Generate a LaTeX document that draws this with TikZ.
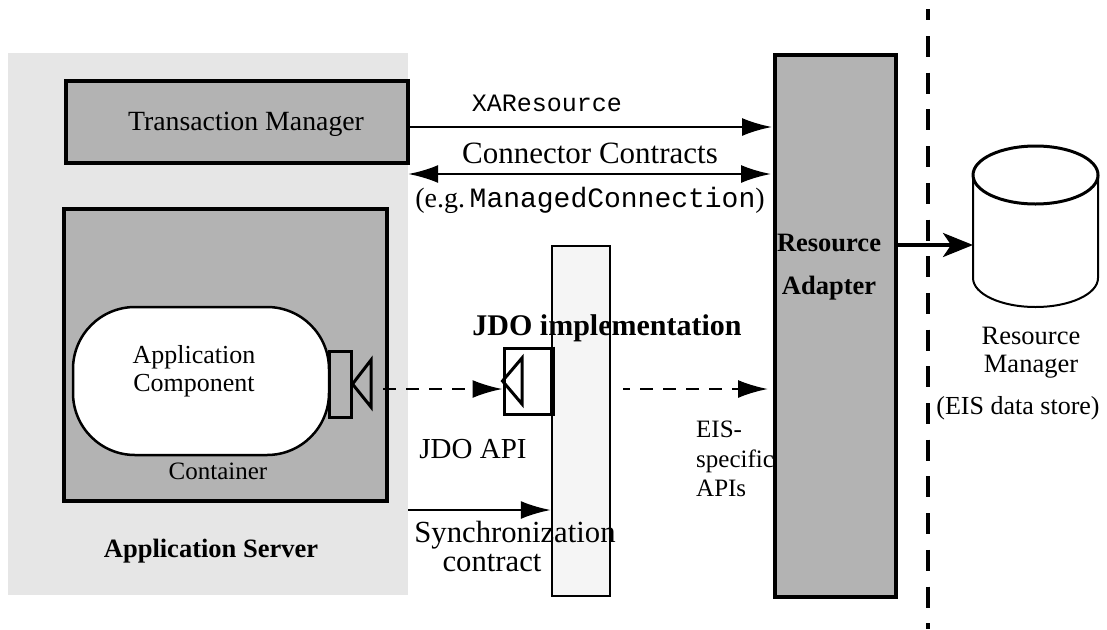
\documentclass[tikz,border=0pt]{standalone}
\usepackage{fontspec}
\usepackage{xcolor}
\setmainfont{Liberation Serif}
\setmonofont{Liberation Mono}
\usetikzlibrary{arrows.meta}
\definecolor{boxgray}{HTML}{B3B3B3}
\definecolor{backgray}{HTML}{E6E6E6}
\definecolor{jdogray}{HTML}{F5F5F5}
\newcommand{\txt}[2]{\fontsize{#1}{#2}\selectfont}
\tikzset{
    box/.style={draw, line width=3.5pt, fill=boxgray, inner sep=0pt},
    thinbox/.style={draw, line width=2.5pt, inner sep=0pt},
    label/.style={inner sep=0pt, align=center},
    flow/.style={line width=2.5pt, -{Latex[length=30pt, width=18pt]}},
    dashflow/.style={flow, dash pattern=on 12.5pt off 10.5pt},
}
\begin{document}
\begin{tikzpicture}[x=1pt, y=-1pt]
    \useasboundingbox (0,0) rectangle (1107,629);
    % application server side
    \node[fill=backgray, inner sep=0pt, minimum width=400pt, minimum height=542pt] (appserver) at (208,324) {};
    \node[box, minimum width=342pt, minimum height=82pt] (txmanager) at (237,122) {};
    \node[box, minimum width=323pt, minimum height=292pt] (container) at (225.5,355) {};
    \node[thinbox, fill=white, rounded corners=62pt, minimum width=256pt, minimum height=148pt] (appcomp) at (201,381) {};
    \node[box, line width=3pt, minimum width=22pt, minimum height=66pt] (plug) at (340,384) {};
    \draw[line width=3pt] (plug.east) -- (371,360) -- (371,407) -- cycle;
    \node[label, font=\txt{27.8}{30}] (txlabel) at (246,124) {Transaction Manager};
    \node[label, font=\txt{26}{28}] (complabel) at (194,371) {Application\\Component};
    \node[label, font=\txt{25}{28}] (contlabel) at (218,471) {Container};
    \node[label, font=\txt{26.5}{28}\bfseries] (serverlabel) at (211,551) {Application Server};
    % jdo implementation
    \node[thinbox, fill=jdogray, minimum width=58pt, minimum height=350pt] (jdo) at (581,421) {};
    \node[thinbox, fill=white, line width=3pt, minimum width=47pt, minimum height=66pt] (socket) at (527.5,381) {};
    \draw[line width=5pt] (socket.north east) -- (socket.south east);
    \draw[line width=3pt] (socket.west) -- (522,358) -- (522,404) -- cycle;
    \node[label, font=\txt{30}{32}\bfseries] (jdolabel) at (607,328) {JDO implementation};
    \node[label, font=\txt{29}{32}] (apilabel) at (473,449) {JDO API};
    \node[label, align=left, anchor=north west, font=\txt{25}{29.5}] (eislabel) at (696,421) {EIS-\\specific\\APIs};
    % resource adapter and store
    \node[box, minimum width=121pt, minimum height=542pt] (adapter) at (835.5,326) {};
    \node[label, font=\txt{26.5}{43}\bfseries] (adlabel) at (829,267) {Resource\\Adapter};
    \draw[line width=3.2pt, dash pattern=on 21pt off 15.7pt, dash phase=9.7pt] (928,9) -- (928,629);
    % the cylinder has no shape of its own here
    \draw[line width=2pt] (973,175) -- (973,278) arc[start angle=180, end angle=360, x radius=62.5pt, y radius=29pt] -- (1098,175);
    \draw[line width=3pt] (1035.5,175) ellipse[x radius=62.5pt, y radius=29pt];
    \coordinate (store) at (973,245);
    \node[label, font=\txt{26.5}{28}] (rmlabel) at (1031,353) {Resource\\Manager};
    \node[label, font=\txt{26}{28}] (eisstore) at (1018,408) {(EIS data store)};
    % connectors
    \coordinate (xaend) at (772,127);
    \coordinate (ccend) at (771,174);
    \draw[flow] (txmanager.east |- xaend) -- (xaend);
    \draw[line width=2.5pt, {Latex[length=30pt, width=18pt]}-{Latex[length=30pt, width=18pt]}] (appserver.east |- ccend) -- (ccend);
    \node[label, font=\txt{25}{28}\ttfamily] (xalabel) at (547,103) {XAResource};
    \node[label, font=\txt{31}{32}] (cclabel) at (590,153) {Connector Contracts};
    \node[label, font=\txt{28}{30}] (mclabel) at (590,200) {(e.g.\,{\ttfamily ManagedConnection})};
    \coordinate (dashin) at (383,389);
    \coordinate (dashout) at (768,389);
    \draw[dashflow] (dashin) -- (socket.west |- dashin);
    \draw[dashflow, dash phase=6pt] (623,389) -- (dashout);
    \coordinate (sync) at (408,510);
    \draw[flow] (sync) -- (jdo.west |- sync);
    \draw[flow, line width=3.5pt, -{Stealth[length=30pt, width=24pt, inset=8pt]}] (adapter.east |- store) -- (store);
    \node[label, font=\txt{30.7}{32}] (synclabel) at (515,535) {Synchronization};
    \node[label, font=\txt{30.7}{32}] (contractlabel) at (492,563) {contract};
\end{tikzpicture}
\end{document}
